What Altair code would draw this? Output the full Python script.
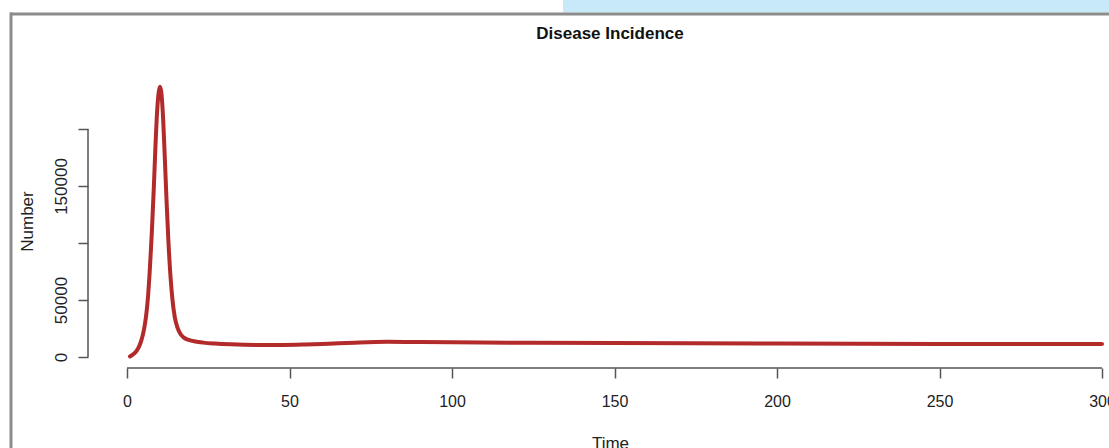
import altair as alt
import pandas as pd

# Disease incidence curve
time = [0.9, 1.4, 2.0, 2.5, 3.0, 3.5, 4.0, 4.5, 5.0, 5.5, 6.0, 6.5, 6.9, 7.3,
        7.7, 8.3, 8.8, 9.3, 9.75, 10.15, 10.6, 11.1, 11.6, 12.2, 12.8, 13.4,
        14.0, 14.7, 15.5, 16.5, 17.5, 19, 21, 23.5, 27, 32, 40, 48, 55, 62,
        70, 80, 90, 100, 125, 150, 200, 250, 300]
number = [500, 1300, 2600, 3900, 5600, 8000, 11200, 15500, 21000, 28500,
          39000, 54000, 71000, 91000, 113000, 152000, 188000, 217000, 232000,
          237000, 231000, 210000, 177000, 135000, 98000, 70000, 50000, 35000,
          26000, 20000, 17000, 15000, 13600, 12600, 11800, 11100, 10600,
          10600, 11000, 11700, 12600, 13300, 13200, 12900, 12400, 12200,
          11900, 11500, 11300]

x_ticks = [0, 50, 100, 150, 200, 250, 300]
y_ticks = [0, 50000, 100000, 150000, 200000]
y_labelled = [0, 50000, 150000]  # R drops overlapping labels

title_text = "Disease Incidence"
x_title = "Time"
y_title = "Number"

FONT = "Liberation Sans"
AX = "#555555"
LINE_COLOR = "#b22a2a"

W, H = 1021, 294

df = pd.DataFrame({"Time": time, "Number": number})
xaxis_df = pd.DataFrame({"Time": [x_ticks[0]], "Time2": [x_ticks[-1]]})
yaxis_df = pd.DataFrame({"Number": [y_ticks[0]], "Number2": [y_ticks[-1]]})
one = alt.Data(values=[{"a": 1}])

xscale = alt.Scale(domain=[-12, 302.15], nice=False, zero=False)
yscale = alt.Scale(domain=[-9650, 248250], nice=False, zero=False)

label_test = " || ".join(f"datum.value == {v}" for v in y_labelled)

xaxis = alt.Axis(values=x_ticks, domain=False, grid=False, tickSize=10,
                 tickColor=AX, tickWidth=1.5, labelFontSize=16, labelFont=FONT,
                 labelColor="#222222", labelPadding=15, labelFlush=False,
                 labelOverlap=False,
                 title=x_title, titleFont=FONT, titleFontSize=17,
                 titleFontWeight="normal", titleColor="#222222",
                 titleX=522, titleY=80, titleAlign="center",
                 titleBaseline="alphabetic")
yaxis = alt.Axis(values=y_ticks, format="d", domain=False, grid=False,
                 tickSize=10, tickColor=AX, tickWidth=1.5, labelFontSize=17,
                 labelFont=FONT, labelColor="#222222", labelAngle=270,
                 labelAlign="center", labelBaseline="alphabetic",
                 labelPadding=12, labelFlush=False, labelOverlap=False,
                 labelExpr=f"({label_test}) ? datum.label : ''",
                 title=y_title, titleFont=FONT, titleFontSize=17,
                 titleFontWeight="normal", titleColor="#222222",
                 titleAngle=270, titleX=-56, titleY=147, titleAlign="center",
                 titleBaseline="alphabetic")

blue_box = alt.Chart(one).mark_rect(color="#c7e9f8").encode(
    x=alt.value(475), x2=alt.value(W), y=alt.value(-74), y2=alt.value(-61.5))
frame_top = alt.Chart(one).mark_rule(color="#8c8c8c", strokeWidth=3).encode(
    x=alt.value(-78), x2=alt.value(W), y=alt.value(-60))
frame_left = alt.Chart(one).mark_rule(color="#8c8c8c", strokeWidth=3).encode(
    x=alt.value(-77), y=alt.value(-61.5), y2=alt.value(380))
title = alt.Chart(one).mark_text(text=title_text, font=FONT, fontSize=17,
                                 fontWeight="bold", color="#111111",
                                 align="center", baseline="alphabetic").encode(
    x=alt.value(522), y=alt.value(-35))

curve = alt.Chart(df).mark_line(color=LINE_COLOR, strokeWidth=4,
                                interpolate="monotone", strokeCap="round",
                                strokeJoin="round").encode(
    x=alt.X("Time:Q", scale=xscale, axis=xaxis),
    y=alt.Y("Number:Q", scale=yscale, axis=yaxis))

x_line = alt.Chart(xaxis_df).mark_rule(color=AX, strokeWidth=1.5).encode(
    x=alt.X("Time:Q", scale=xscale, axis=xaxis), x2="Time2:Q", y=alt.value(H))
y_line = alt.Chart(yaxis_df).mark_rule(color=AX, strokeWidth=1.5).encode(
    y=alt.Y("Number:Q", scale=yscale, axis=yaxis), y2="Number2:Q", x=alt.value(0))

chart = alt.layer(curve, blue_box, frame_top, frame_left, title, x_line, y_line).properties(
    width=W, height=H,
    autosize=alt.AutoSizeParams(type="none"),
    padding={"left": 88, "top": 74, "right": 0, "bottom": 80},
    background="white",
).configure_view(stroke=None)

chart.save("out.html", embed_options={"renderer": "svg", "actions": False})
